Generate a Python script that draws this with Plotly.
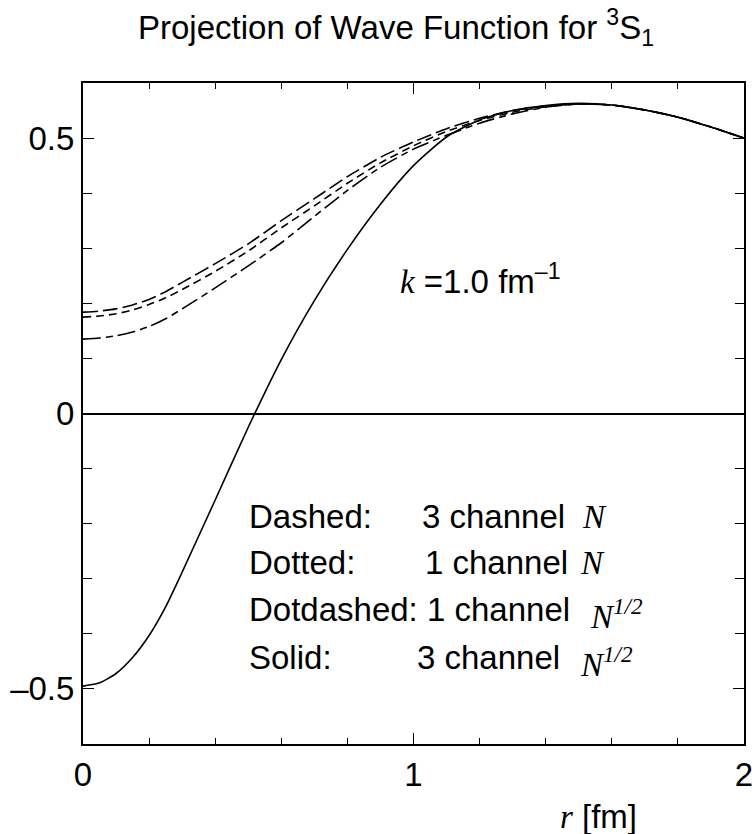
import plotly.graph_objects as go

r = [0.0, 0.05, 0.1, 0.15, 0.2, 0.25, 0.3, 0.4, 0.5, 0.6, 0.7, 0.8, 0.9, 1.0, 1.1, 1.2, 1.3, 1.4, 1.5, 1.6, 1.7, 1.8, 1.9, 2.0]
dashed = [0.184, 0.186, 0.190, 0.197, 0.207, 0.221, 0.238, 0.272, 0.308, 0.350, 0.390, 0.430, 0.465, 0.493, 0.517, 0.536, 0.550, 0.558, 0.562, 0.560, 0.551, 0.538, 0.520, 0.500]
dotted = [0.175, 0.177, 0.181, 0.188, 0.198, 0.210, 0.225, 0.258, 0.295, 0.337, 0.377, 0.418, 0.455, 0.486, 0.512, 0.532, 0.547, 0.557, 0.562, 0.560, 0.551, 0.538, 0.520, 0.500]
dotdashed = [0.135, 0.137, 0.141, 0.148, 0.158, 0.172, 0.190, 0.228, 0.268, 0.310, 0.358, 0.405, 0.447, 0.480, 0.505, 0.527, 0.544, 0.556, 0.562, 0.560, 0.551, 0.538, 0.520, 0.500]
solid = [-0.495, -0.489, -0.472, -0.443, -0.403, -0.351, -0.288, -0.157, -0.025, 0.098, 0.205, 0.298, 0.380, 0.450, 0.502, 0.533, 0.550, 0.559, 0.563, 0.560, 0.551, 0.538, 0.520, 0.500]

xtick_vals = [0, 1, 2]
xtick_text = ["0", "1", "2"]
ytick_vals = [-0.5, 0, 0.5]
ytick_text = ["\u20130.5", "0", "0.5"]

SANS = "Liberation Sans, Arial, sans-serif"
SERIF = "Liberation Serif, Times New Roman, serif"
FS = 33

fig = go.Figure()
styles = [
    (dashed, "15px,5px"),
    (dotted, "8px,5px"),
    (dotdashed, "18px,5px,7px,5px"),
    (solid, "solid"),
]
for ys, dash in styles:
    fig.add_trace(go.Scatter(x=r, y=ys, mode="lines",
                             line=dict(color="black", width=1.6, dash=dash, shape="spline", smoothing=0.6),
                             showlegend=False, hoverinfo="skip"))

axis_common = dict(
    showline=True, linecolor="black", linewidth=2, mirror="ticks",
    ticks="inside", tickwidth=1.3, tickcolor="black",
    showgrid=False, tickfont=dict(family=SANS, size=FS, color="black"),
)
fig.update_xaxes(range=[0, 2], tickvals=xtick_vals, ticktext=xtick_text, zeroline=False, ticklen=11,
                 minor=dict(ticks="inside", ticklen=6, tickwidth=1.2, tickcolor="black", dtick=0.2, tick0=0),
                 ticklabelstandoff=0, **axis_common)
fig.update_yaxes(range=[-0.6, 0.6], tickvals=ytick_vals, ticktext=ytick_text, ticklen=11,
                 zeroline=True, zerolinecolor="black", zerolinewidth=1.5,
                 minor=dict(ticks="inside", ticklen=9, tickwidth=1.2, tickcolor="black", dtick=0.1, tick0=0),
                 ticklabelstandoff=0, **axis_common)

def px2x(px):
    return (px - 83) / 661 * 2

def py2y(py):
    return (413.5 - py) / 551

def font(fam=SANS):
    return dict(family=fam, size=FS, color="black")

ann = []
ann.append(dict(xref="paper", yref="paper", x=(396 - 83) / 661, y=(744 - 27) / 661,
                text="Projection of Wave Function for <sup>3</sup>S<sub>1</sub>",
                showarrow=False, xanchor="center", yanchor="middle", font=font()))
ann.append(dict(x=px2x(398), y=py2y(279),
                text="<span style=\"font-family:Liberation Serif\"><i>k</i></span> =1.0 fm<sup>\u20131</sup>",
                showarrow=False, xanchor="left", yanchor="middle", font=font()))

labels = ["Dashed:", "Dotted:", "Dotdashed: 1 channel", "Solid:"]
mids = ["3 channel", "1 channel", "", "3 channel"]
mid_x = [420, 423, 0, 415]
ns = ["<i>N</i>", "<i>N</i>", "<i>N</i><sup><i>1/2</i></sup>", "<i>N</i><sup><i>1/2</i></sup>"]
n_x = [580, 578, 588, 578]
rows_y = [517, 563, 610, 658]
for i in range(4):
    ann.append(dict(x=px2x(247), y=py2y(rows_y[i]), text=labels[i], showarrow=False,
                    xanchor="left", yanchor="middle", font=font()))
    if mids[i]:
        ann.append(dict(x=px2x(mid_x[i]), y=py2y(rows_y[i]), text=mids[i], showarrow=False,
                        xanchor="left", yanchor="middle", font=font()))
    ann.append(dict(x=px2x(n_x[i]), y=py2y(rows_y[i] + (4 if "sup" in ns[i] else 0)), text=ns[i], showarrow=False,
                    xanchor="left", yanchor="middle", font=font(SERIF)))

ann.append(dict(xref="paper", yref="paper", x=(558 - 83) / 661, y=(744 - 816) / 661,
                text="<span style=\"font-family:Liberation Serif\"><i>r</i></span> [fm]",
                showarrow=False, xanchor="left", yanchor="middle", font=font()))

fig.update_layout(width=756, height=834, margin=dict(l=83, r=12, t=83, b=90, autoexpand=False),
                  plot_bgcolor="white", paper_bgcolor="white", annotations=ann)

fig.write_html("out.html")
